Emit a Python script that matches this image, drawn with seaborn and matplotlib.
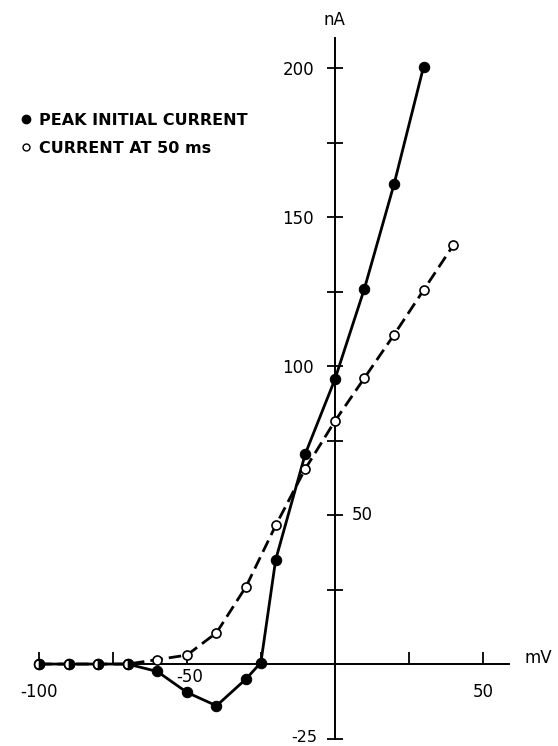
import matplotlib
matplotlib.use("Agg")
import matplotlib.pyplot as plt
from matplotlib.lines import Line2D
import seaborn as sns
import pandas as pd

# ---- data ----
volts_peak = [-100, -90, -80, -70, -60, -50, -40, -30, -25, -20, -10, 0, 10, 20, 30]
peak_current = [0, 0, 0, 0, -2.5, -9.5, -14, -5, 0.5, 35, 70.5, 95.5, 126, 161, 200.5]
volts_late = [-100, -90, -80, -70, -60, -50, -40, -30, -20, -10, 0, 10, 20, 30, 40]
late_current = [0, 0, 0, 0, 1.5, 3, 10.5, 26, 46.5, 65.5, 81.5, 96, 110.5, 125.5, 140.5]
shared_volts = [-100, -90, -80, -70]
shared_current = [0, 0, 0, 0]
x_ticks = [-100, -75, -50, -25, 25, 50]
x_ticklabels = ["-100", "", "", "", "", "50"]
y_ticks = [-25, 25, 50, 75, 100, 125, 150, 175, 200]
y_ticklabels = ["", "", "", "", "100", "", "150", "", "200"]
legend_labels = ["PEAK INITIAL CURRENT", "CURRENT AT 50 ms"]

sns.set_style("white")
plt.rcParams["font.family"] = ["DejaVu Sans"]
plt.rcParams["text.color"] = "black"

df_peak = pd.DataFrame({"mV": volts_peak, "nA": peak_current})
df_late = pd.DataFrame({"mV": volts_late, "nA": late_current})

fig = plt.figure(figsize=(5.58, 7.46), dpi=100)
ax = fig.add_axes([0.0168, 0.0, 0.981, 0.9887])

sns.lineplot(data=df_peak, x="mV", y="nA", ax=ax, color="black", lw=2.0,
             estimator=None, sort=False, marker="o", markersize=7.5,
             markerfacecolor="black", markeredgecolor="black", zorder=3)
sns.lineplot(data=df_late, x="mV", y="nA", ax=ax, color="black", lw=2.0,
             estimator=None, sort=False, marker="o", markersize=6.5,
             markerfacecolor="white", markeredgecolor="black",
             markeredgewidth=1.2, dashes=False, zorder=4)
ax.lines[-1].set_dashes((4.5, 2.2))
ax.plot(shared_volts, shared_current, linestyle="none", marker="o", markersize=7,
        fillstyle="right", markerfacecolor="black", markerfacecoloralt="white",
        markeredgecolor="black", markeredgewidth=1.2, zorder=5)

ax.set_xlim(-110, 75)
ax.set_ylim(-27.5, 220)

for s in ["top", "right"]:
    ax.spines[s].set_visible(False)
ax.spines["left"].set_position(("data", 0))
ax.spines["bottom"].set_position(("data", 0))
ax.spines["left"].set_bounds(-25, 210)
ax.spines["bottom"].set_bounds(-100, 59)
for s in ["left", "bottom"]:
    ax.spines[s].set_linewidth(1.4)
    ax.spines[s].set_color("black")

ax.set_xticks(x_ticks)
ax.set_xticklabels(x_ticklabels)
ax.set_yticks(y_ticks)
ax.set_yticklabels(y_ticklabels)
ax.tick_params(axis="x", direction="in", length=9, width=1.3, pad=14,
               labelsize=12, colors="black", bottom=True)
ax.tick_params(axis="y", direction="inout", length=12, width=1.3, pad=9,
               labelsize=12, colors="black", left=True)
ax.set_xlabel("")
ax.set_ylabel("")

ax.text(-49, -4.5, "-50", ha="center", va="center", fontsize=12)
ax.text(5.7, 50, "50", ha="left", va="center", fontsize=12)
ax.text(-6.0, -24.6, "-25", ha="right", va="center", fontsize=11.5)
ax.text(0, 216, "nA", ha="center", va="center", fontsize=12)
ax.text(64, 2, "mV", ha="left", va="center", fontsize=12)

handles = [
    Line2D([], [], linestyle="none", marker="o", markersize=6,
           markerfacecolor="black", markeredgecolor="black"),
    Line2D([], [], linestyle="none", marker="o", markersize=5,
           markerfacecolor="white", markeredgecolor="black", markeredgewidth=1),
]
fig.legend(handles, legend_labels, loc="upper left",
           bbox_to_anchor=(0.027, 0.857), frameon=False,
           prop={"size": 11.5, "weight": "bold"},
           handlelength=0.6, handletextpad=0.5, labelspacing=0.8,
           borderaxespad=0)

fig.savefig("out.png", dpi=100)
